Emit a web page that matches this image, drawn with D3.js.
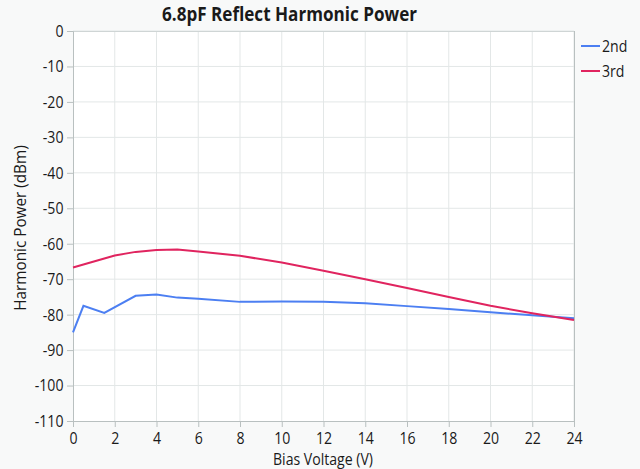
<!DOCTYPE html>
<html><head><meta charset="utf-8">
<script src="https://cdn.jsdelivr.net/npm/d3@7"></script>
<style>
body{margin:0;background:#f8f9f9;}
svg text{font-family:"Open Sans","Noto Sans",sans-serif;fill:#1a1a1a;}
</style></head>
<body><svg id="c" width="640" height="469"></svg>
<script>
const voltage = [0, 0.5, 1.5, 3, 4, 5, 6, 8, 10, 12, 14, 16, 18, 20, 22, 24];
const second = [-85.0, -77.5, -79.5, -74.7, -74.3, -75.2, -75.5, -76.4, -76.3, -76.4, -76.8, -77.6, -78.4, -79.3, -80.2, -81.0];
const voltage3 = [0, 1, 2, 3, 4, 5, 6, 8, 10, 12, 14, 16, 18, 20, 22, 24];
const third = [-66.7, -65.0, -63.3, -62.3, -61.8, -61.6, -62.2, -63.4, -65.3, -67.6, -70.0, -72.5, -75.0, -77.5, -79.6, -81.5];
const xTicks = [0, 2, 4, 6, 8, 10, 12, 14, 16, 18, 20, 22, 24];
const yTicks = [0, -10, -20, -30, -40, -50, -60, -70, -80, -90, -100, -110];
const seriesNames = ["2nd", "3rd"];
const colors = ["#4c7ff2", "#e0245f"];

const svg = d3.select("#c");
const L = 73, R = 574, T = 31, B = 421;
const SX = 0.83;
const x = d3.scaleLinear().domain([0, 24]).range([L, R]);
const y = d3.scaleLinear().domain([-110, 0]).range([B, T]);

svg.append("rect").attr("x", L).attr("y", T).attr("width", R - L).attr("height", B - T).attr("fill", "#fff");

// grid
svg.append("g").selectAll("line").data(xTicks.slice(1)).join("line")
  .attr("x1", d => x(d)).attr("x2", d => x(d)).attr("y1", T).attr("y2", B)
  .attr("stroke", "#e3e7e7").attr("stroke-width", 1);
svg.append("g").selectAll("line").data(yTicks.slice(0, -1)).join("line")
  .attr("x1", L).attr("x2", R).attr("y1", d => y(d)).attr("y2", d => y(d))
  .attr("stroke", "#e3e7e7").attr("stroke-width", 1);

// border
svg.append("line").attr("x1", R + 0.5).attr("x2", R + 0.5).attr("y1", T).attr("y2", B).attr("stroke", "#b9c0c0");
svg.append("line").attr("x1", L).attr("x2", R).attr("y1", T + 0.5).attr("y2", T + 0.5).attr("stroke", "#cfd5d5");

const xAxis = svg.append("g").attr("transform", `translate(0,${B})`)
  .call(d3.axisBottom(x).tickValues(xTicks).tickSize(6).tickPadding(5));
const yAxis = svg.append("g").attr("transform", `translate(${L},0)`)
  .call(d3.axisLeft(y).tickValues(yTicks).tickSize(6).tickPadding(5.5).tickFormat(d3.format("d")));
[xAxis, yAxis].forEach(a => {
  a.selectAll("path,line").attr("stroke", "#b9c0c0");
  a.selectAll("text").attr("font-size", 17).attr("fill", "#1a1a1a")
   .attr("transform", `scale(${SX},1)`)
   .style("font-family", "'Open Sans',sans-serif");
});
yAxis.selectAll("text").text(d => d === 0 ? "0" : "-" + Math.abs(d));

const line = d3.line().x(d => x(d[0])).y(d => y(d[1]));
svg.append("path").datum(voltage.map((v, i) => [v, second[i]]))
  .attr("d", line).attr("fill", "none").attr("stroke", colors[0]).attr("stroke-width", 2);
svg.append("path").datum(voltage3.map((v, i) => [v, third[i]]))
  .attr("d", line).attr("fill", "none").attr("stroke", colors[1]).attr("stroke-width", 2);

// titles
svg.append("text").attr("transform", "translate(289.5,20.5) scale(0.9,1)").attr("text-anchor", "middle")
  .attr("font-size", 19).attr("font-weight", "bold").text("6.8pF Reflect Harmonic Power");
svg.append("text").attr("transform", "translate(323,464.5) scale(0.88,1)").attr("text-anchor", "middle")
  .attr("font-size", 16).text("Bias Voltage (V)");
svg.append("text").attr("transform", "translate(26,228) rotate(-90) scale(0.9,1)").attr("text-anchor", "middle")
  .attr("font-size", 17).text("Harmonic Power (dBm)");

// legend
const lg = svg.append("g").selectAll("g").data(seriesNames).join("g")
  .attr("transform", (d, i) => `translate(581,${46 + i * 25})`);
lg.append("line").attr("x1", 0).attr("x2", 19).attr("stroke", (d, i) => colors[i]).attr("stroke-width", 2);
lg.append("text").attr("transform", `translate(21,5.5) scale(${SX},1)`).attr("font-size", 17).text(d => d);
</script></body></html>
